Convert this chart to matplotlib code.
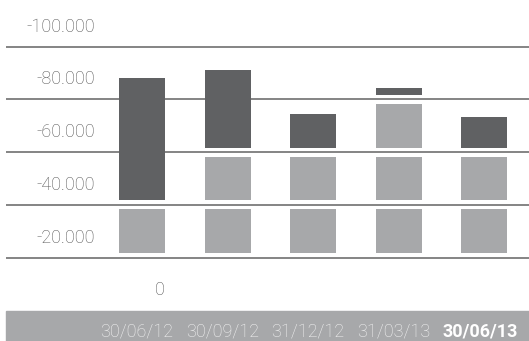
import matplotlib
matplotlib.use("Agg")
import matplotlib.pyplot as plt
from matplotlib.patches import Rectangle
from matplotlib import transforms

plt.rcParams['font.family'] = ['Roboto', 'DejaVu Sans']

# ---- data ----
categories = ["30/06/12", "30/09/12", "31/12/12", "31/03/13", "30/06/13"]
light_values = [20, 40, 40, 60, 40]      # light grey part (drawn in blocks of 20)
dark_values = [50, 33, 16, 6, 15]        # dark grey part on top
grid_values = [0, 20, 40, 60, 80]
y_labels = ["-20.000", "-40.000", "-60.000", "-80.000", "-100.000"]
zero_label = "0"

# ---- style ----
DARK = "#606163"
LIGHT = "#a7a8aa"
GRID = "#707070"
TXT = "#555555"
BLOCK = 20
INSET = 1.7
BAR_W = 0.538

fig = plt.figure(figsize=(5.29, 3.41), dpi=100)
# bottom band (drawn behind the axes)
fig.patches.append(Rectangle((6 / 529, 0), 523 / 529, 30 / 341,
                             transform=fig.transFigure, color=LIGHT, zorder=0))

ax = fig.add_axes([6 / 529, 30 / 341, 523 / 529, 311 / 341])
ax.set_zorder(2)
ax.set_xlim(-1.591, 4.526)
ax.set_ylim(-20.2, 97.7)
ax.axis('off')

for g in grid_values:
    ax.axhline(g, color=GRID, lw=1.2, zorder=1)

for i, (lv, dv) in enumerate(zip(light_values, dark_values)):
    b = 0
    rem = lv
    while rem > 0:
        h = min(BLOCK, rem)
        ax.bar(i, h - 2 * INSET, bottom=b + INSET, width=BAR_W, color=LIGHT, zorder=2)
        b += h
        rem -= h
    ax.bar(i, dv - 2 * INSET, bottom=lv + INSET, width=BAR_W, color=DARK, zorder=2)

# y labels (placed above each gridline)
for g, lab in zip(grid_values, y_labels):
    ax.text(-0.55, g + 5.7, lab, ha='right', va='baseline', fontsize=13,
            color=TXT, fontweight='light')
ax.text(0.21, -14.2, zero_label, ha='center', va='baseline', fontsize=13,
        color=TXT, fontweight='light')

trans = transforms.blended_transform_factory(ax.transData, fig.transFigure)
for i, c in enumerate(categories):
    last = i == len(categories) - 1
    ax.text(i - 0.49, 4 / 341, c, transform=trans, ha='left', va='baseline',
            fontsize=13, color='white' if last else '#f4f4f4',
            fontweight='bold' if last else 'light', clip_on=False, zorder=5)

fig.savefig("out.png", dpi=100)
